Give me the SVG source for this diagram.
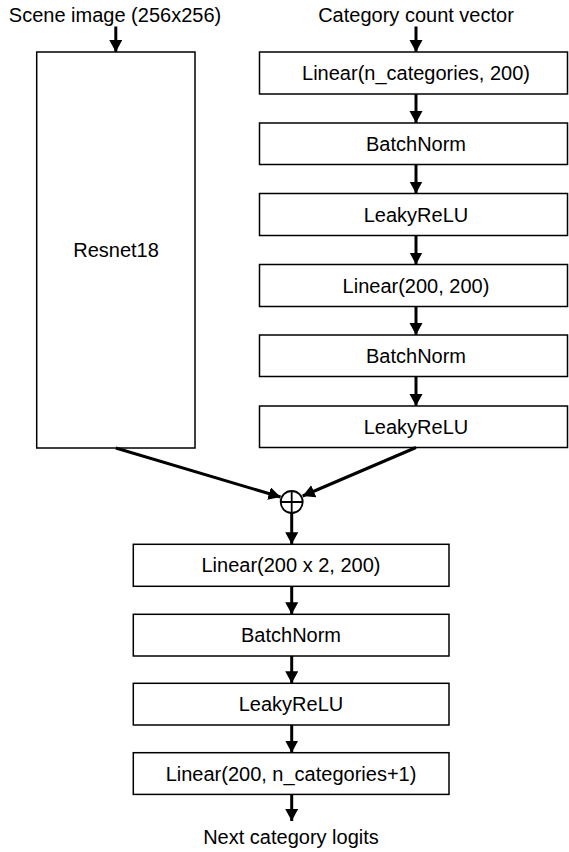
<svg xmlns="http://www.w3.org/2000/svg" width="569" height="852" viewBox="0 0 569 852">
<style>
.box{fill:#fff;stroke:#000;stroke-width:1.5}
.lbl{font-family:"Liberation Sans",Arial,sans-serif;font-size:20px;fill:#000;text-anchor:middle}
.con{stroke:#000;stroke-width:3;fill:none}
</style>
<defs>
<marker id="ah" markerUnits="userSpaceOnUse" markerWidth="14" markerHeight="14" refX="12" refY="6.5" orient="auto">
<path d="M0,0 L12,6.5 L0,13 Z" fill="#000"/>
</marker>
</defs>
<rect width="569" height="852" fill="#fff"/>
<text class="lbl" x="115" y="22">Scene image (256x256)</text>
<text class="lbl" x="416" y="22">Category count vector</text>
<g id="resnet"><rect class="box" x="36.7" y="52" width="158.3" height="396"/><text class="lbl" x="116" y="257">Resnet18</text></g>
<g id="r1"><rect class="box" x="259.5" y="52" width="308" height="42"/><text class="lbl" x="416" y="80">Linear(n_categories, 200)</text></g>
<g id="r2"><rect class="box" x="259.5" y="123" width="308" height="41.5"/><text class="lbl" x="416" y="151">BatchNorm</text></g>
<g id="r3"><rect class="box" x="259.5" y="193.5" width="308" height="42"/><text class="lbl" x="416" y="221.5">LeakyReLU</text></g>
<g id="r4"><rect class="box" x="259.5" y="264.5" width="308" height="42"/><text class="lbl" x="416" y="292.5">Linear(200, 200)</text></g>
<g id="r5"><rect class="box" x="259.5" y="335" width="308" height="41.5"/><text class="lbl" x="416" y="363">BatchNorm</text></g>
<g id="r6"><rect class="box" x="259.5" y="406" width="308" height="41.5"/><text class="lbl" x="416" y="434">LeakyReLU</text></g>
<g id="sum"><circle cx="291.7" cy="502" r="11" fill="#fff" stroke="#000" stroke-width="1.8"/><path d="M280.7,502 H302.7 M291.7,491 V513" stroke="#000" stroke-width="1.8"/></g>
<g id="b1"><rect class="box" x="133.3" y="544.3" width="315.7" height="42"/><text class="lbl" x="291" y="572.3">Linear(200 x 2, 200)</text></g>
<g id="b2"><rect class="box" x="133.3" y="614.3" width="315.7" height="41.7"/><text class="lbl" x="291" y="642">BatchNorm</text></g>
<g id="b3"><rect class="box" x="133.3" y="683.3" width="315.7" height="41.7"/><text class="lbl" x="291" y="711">LeakyReLU</text></g>
<g id="b4"><rect class="box" x="133.3" y="752.7" width="315.7" height="41.7"/><text class="lbl" x="291" y="780.5">Linear(200, n_categories+1)</text></g>
<text class="lbl" x="291" y="844">Next category logits</text>
<g id="connectors">
<line class="con" x1="115.8" y1="26.5" x2="115.8" y2="52" marker-end="url(#ah)"/>
<line class="con" x1="416" y1="26.5" x2="416" y2="52" marker-end="url(#ah)"/>
<line class="con" x1="416" y1="94" x2="416" y2="123" marker-end="url(#ah)"/>
<line class="con" x1="416" y1="164.5" x2="416" y2="193.5" marker-end="url(#ah)"/>
<line class="con" x1="416" y1="235.5" x2="416" y2="264.5" marker-end="url(#ah)"/>
<line class="con" x1="416" y1="306.5" x2="416" y2="335" marker-end="url(#ah)"/>
<line class="con" x1="416" y1="376.5" x2="416" y2="406" marker-end="url(#ah)"/>
<line class="con" x1="115.8" y1="448" x2="280.5" y2="497" marker-end="url(#ah)"/>
<line class="con" x1="416" y1="447.5" x2="302.7" y2="496" marker-end="url(#ah)"/>
<line class="con" x1="291.7" y1="513" x2="291.7" y2="544.3" marker-end="url(#ah)"/>
<line class="con" x1="291.7" y1="586.3" x2="291.7" y2="614.3" marker-end="url(#ah)"/>
<line class="con" x1="291.7" y1="656" x2="291.7" y2="683.3" marker-end="url(#ah)"/>
<line class="con" x1="291.7" y1="725" x2="291.7" y2="752.7" marker-end="url(#ah)"/>
<line class="con" x1="291.7" y1="794.4" x2="291.7" y2="821" marker-end="url(#ah)"/>
</g>
</svg>
